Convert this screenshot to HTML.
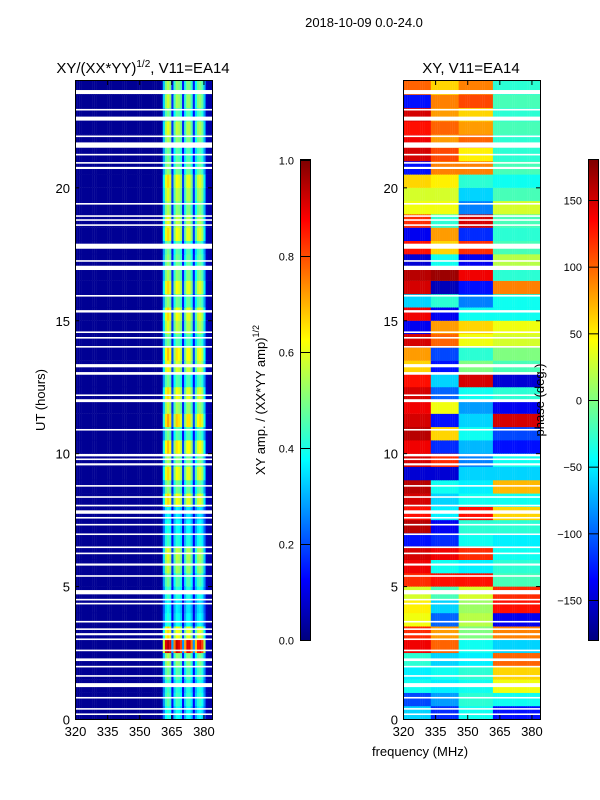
<!DOCTYPE html>
<html><head><meta charset="utf-8">
<style>
html,body{margin:0;padding:0;background:#fff;}
#root{position:relative;width:600px;height:800px;overflow:hidden;font-family:"Liberation Sans","DejaVu Sans",sans-serif;}
canvas{position:absolute;image-rendering:pixelated;}
svg{position:absolute;left:0;top:0;}
</style></head>
<body>
<div id="root">
<canvas id="ampCanvas" width="137" height="638" style="left:75px;top:81px;width:137px;height:638px"></canvas>
<canvas id="phaseCanvas" width="137" height="638" style="left:403px;top:81px;width:137px;height:638px"></canvas>
<canvas id="cb1" width="10" height="480" style="left:300px;top:160px;width:10px;height:480px"></canvas>
<canvas id="cb2" width="10" height="480" style="left:588px;top:160px;width:10px;height:480px"></canvas>
<svg id="ov" width="600" height="800"></svg>
</div>
<script>
// ---- data ----
const freqStart = 320, freqEnd = 384, nChan = 64;
const xTicks = [320, 335, 350, 365, 380];
const yTicks = [0, 5, 10, 15, 20];
const ampTicks = [0.0, 0.2, 0.4, 0.6, 0.8, 1.0];
const phaseTicks = [-150, -100, -50, 0, 50, 100, 150];
// amplitude per channel (320..383 MHz)
const ampCol = [0.02,0.02,0.02,0.02,0.02,0.02,0.02,0.02,0.02,0.02,0.02,0.02,0.02,0.02,0.02,0.02,
0.02,0.02,0.02,0.02,0.02,0.02,0.02,0.02,0.02,0.02,0.02,0.02,0.02,0.02,0.02,0.02,
0.02,0.02,0.02,0.02,0.02,0.02,0.02,0.02,0.04,0.32,0.5,0.55,0.5,0.16,0.42,0.52,
0.5,0.45,0.15,0.4,0.5,0.5,0.42,0.15,0.38,0.48,0.5,0.45,0.3,0.06,0.04,0.04];
// amplitude row scale per half hour (0h..24h)
const ampRow = [0.75,0.85,0.8,0.9,1.0,1.8,1.2,0.75,0.7,0.8,0.9,1.05,1.1,0.8,0.75,0.7,
1.2,0.95,1.2,1.0,1.25,0.9,1.3,1.05,1.2,0.9,1.15,1.25,0.9,1.1,1.2,0.95,
1.2,1.0,0.95,0.9,1.2,1.1,1.0,1.1,1.2,0.95,0.9,1.0,1.1,0.9,1.05,1.0];
// phase per half hour in four frequency groups
const phaseA = [-60,-110,-40,-50,-30,140,120,40,50,30,120,140,150,-130,160,130,150,160,-150,150,140,160,150,140,150,130,60,80,150,-140,140,-60,150,160,-150,130,-140,120,40,30,60,-130,150,140,130,150,-130,100];
const phaseB = [-120,-80,-50,-40,-60,100,80,-100,-60,-20,130,-40,140,-120,-140,-50,-60,-40,-150,120,-120,60,-130,40,-100,-60,-130,-110,100,80,-140,-30,-160,170,-40,60,80,-30,40,30,50,90,110,80,100,80,90,60];
const phaseC = [-40,-30,-40,-30,-50,-40,0,20,10,30,130,-50,120,-40,-30,130,-40,-50,-60,-90,-70,-40,-60,-80,-40,150,0,-30,40,60,-40,-90,-130,140,-140,120,-120,150,-90,-60,-30,90,50,100,80,60,110,90];
const phaseD = [-130,-40,40,60,100,-60,90,-140,130,120,-20,-30,-40,-50,-30,60,-40,70,-60,-40,-130,-110,150,-140,-30,-150,-20,0,30,40,-40,-40,90,-30,20,-20,-30,-20,30,-20,-40,-20,-30,-30,-20,-30,-20,-30];
const groupEdges = [320, 333, 346, 362, 384];
// flagged (white) time intervals, hours [start,end]
const flagStart = [23.51,22.89,22.51,21.89,21.49,21.20,20.89,20.69,19.35,18.89,18.74,18.55,17.69,17.20,16.89,15.89,15.29,14.52,14.31,13.97,13.23,12.95,12.15,11.92,10.85,9.88,9.74,9.54,8.74,8.32,8.0,7.72,7.54,7.28,6.92,6.43,6.2,5.77,5.35,4.69,4.46,4.31,3.63,3.35,3.15,2.97,2.55,2.18,1.94,1.59,1.2,0.77,0.35,0.15];
const flagEnd   = [23.66,22.95,22.66,21.95,21.69,21.26,20.95,20.77,19.41,18.95,18.80,18.61,17.88,17.26,17.05,15.95,15.38,14.58,14.37,14.03,13.35,13.05,12.21,12.03,10.91,9.97,9.80,9.62,8.80,8.38,8.06,7.85,7.60,7.34,6.98,6.49,6.26,5.85,5.41,4.85,4.52,4.37,3.69,3.41,3.23,3.03,2.61,2.28,2.0,1.65,1.35,0.83,0.41,0.21];

// ---- helpers ----
const PX0=75, PX1=212, PX0b=403, PTOP=81, PBOT=719;
function xScale(f, left){ return left + (f-freqStart)/(freqEnd-freqStart)*137; }
function yScale(h){ return PBOT - h/24*(PBOT-PTOP); }
function jet(v){
  v=Math.max(0,Math.min(1,v));
  const r=Math.max(0,Math.min(1,1.5-Math.abs(4*v-3)));
  const g=Math.max(0,Math.min(1,1.5-Math.abs(4*v-2)));
  const b=Math.max(0,Math.min(1,1.5-Math.abs(4*v-1)));
  return `rgb(${Math.round(r*255)},${Math.round(g*255)},${Math.round(b*255)})`;
}
function groupOf(f){ for(let g=0;g<4;g++){ if(f<groupEdges[g+1]) return g;} return 3; }

// ---- heatmaps ----
const ca=document.getElementById('ampCanvas').getContext('2d');
const cp=document.getElementById('phaseCanvas').getContext('2d');
const rowH=(PBOT-PTOP)/48, colW=137/nChan;
for(let r=0;r<48;r++){
  for(let c=0;c<nChan;c++){
    const f=freqStart+c;
    const x=xScale(f,0), w=colW+0.5;
    const y=yScale((r+1)*0.5)-PTOP;
    let a=ampCol[c]; if(a>0.1) a=Math.min(0.95,a*ampRow[r]);
    ca.fillStyle=jet(a); ca.fillRect(x,y,w,rowH+0.5);
    const g=groupOf(f);
    const ph=[phaseA,phaseB,phaseC,phaseD][g][r];
    cp.fillStyle=jet((ph+180)/360); cp.fillRect(x,y,w,rowH+0.5);
  }
}
for(let i=0;i<flagStart.length;i++){
  const y0=yScale(flagEnd[i])-PTOP, y1=yScale(flagStart[i])-PTOP;
  ca.fillStyle='#fff'; ca.fillRect(0,y0,137,y1-y0);
  cp.fillStyle='#fff'; cp.fillRect(0,y0,137,y1-y0);
}
['cb1','cb2'].forEach(id=>{
  const c=document.getElementById(id).getContext('2d');
  for(let i=0;i<480;i++){ c.fillStyle=jet(1-i/479); c.fillRect(0,i,10,1); }
});

// ---- axes overlay ----
const ov=document.getElementById('ov');
const NS='http://www.w3.org/2000/svg';
function el(tag,attrs,parent){ const e=document.createElementNS(NS,tag); for(const k in attrs) e.setAttribute(k,attrs[k]); (parent||ov).appendChild(e); return e; }
function txt(s,attrs){ const t=el('text',Object.assign({'font-size':13,fill:'#000','font-family':'Liberation Sans, DejaVu Sans, sans-serif'},attrs)); t.textContent=s; return t; }

let t=txt('2018-10-09 0.0-24.0',{x:364,y:27,'text-anchor':'middle'});



[[PX0,'left'],[PX0b,'right']].forEach(([L,side])=>{
  const fr=el('rect',{x:L+0.5,y:PTOP-0.5,width:137,height:PBOT-PTOP+1,fill:'none',stroke:'#000','stroke-width':1});
  
  
  xTicks.forEach(v=>{
    const x=xScale(v,L)+0.5;
    el('line',{x1:x,x2:x,y1:PBOT,y2:PBOT-4,stroke:'#000'});
    el('line',{x1:x,x2:x,y1:PTOP,y2:PTOP+4,stroke:'#000'});
    const tl=txt(String(v),{x:x,y:PBOT+17,'text-anchor':'middle'});
    
    
  });
  yTicks.forEach(v=>{
    const y=yScale(v)+0.5;
    el('line',{x1:L,x2:L+4,y1:y,y2:y,stroke:'#000'});
    el('line',{x1:L+137,x2:L+133,y1:y,y2:y,stroke:'#000'});
    const tl=txt(String(v),{x:L-5,y:y+5,'text-anchor':'end'});
    
    
  });
});
t=el('text',{x:143,y:73,'text-anchor':'middle','font-size':15,'font-family':'Liberation Sans, DejaVu Sans, sans-serif'});
t.innerHTML='XY/(XX*YY)<tspan dy="-6" font-size="10">1/2</tspan><tspan dy="6">, V11=EA14</tspan>';


t=txt('XY, V11=EA14',{x:471,y:73,'text-anchor':'middle','font-size':15});


t=txt('UT (hours)',{x:0,y:0,'text-anchor':'middle',transform:'translate(45,400) rotate(-90)'});


t=txt('frequency (MHz)',{x:420,y:756,'text-anchor':'middle'});



function colorbar(L,ticks,lo,hi,fmt,name){
  const r=el('rect',{x:L+0.5,y:159.5,width:10,height:481,fill:'none',stroke:'#000'});
  
  
  ticks.forEach(v=>{
    const y=640-(v-lo)/(hi-lo)*480+0.5;
    el('line',{x1:L,x2:L+10,y1:y,y2:y,stroke:'#000'});
    const tl=txt(fmt(v),{x:L-6,y:y+4,'text-anchor':'end','font-size':11});
    
    
  });
}
colorbar(300,ampTicks,0,1,v=>v.toFixed(1),'amplitude-colorbar');
colorbar(588,phaseTicks,-180,180,v=>v<0?'\u2212'+Math.abs(v):String(v),'phase-colorbar');

t=el('text',{x:0,y:0,'text-anchor':'middle','font-size':13,'font-family':'Liberation Sans, DejaVu Sans, sans-serif',transform:'translate(265,400) rotate(-90)'});
t.innerHTML='XY amp. / (XX*YY amp)<tspan dy="-6" font-size="9">1/2</tspan>';


t=txt('phase (deg.)',{x:0,y:0,'text-anchor':'middle',transform:'translate(544,400) rotate(-90)'});


</script>
</body></html>
